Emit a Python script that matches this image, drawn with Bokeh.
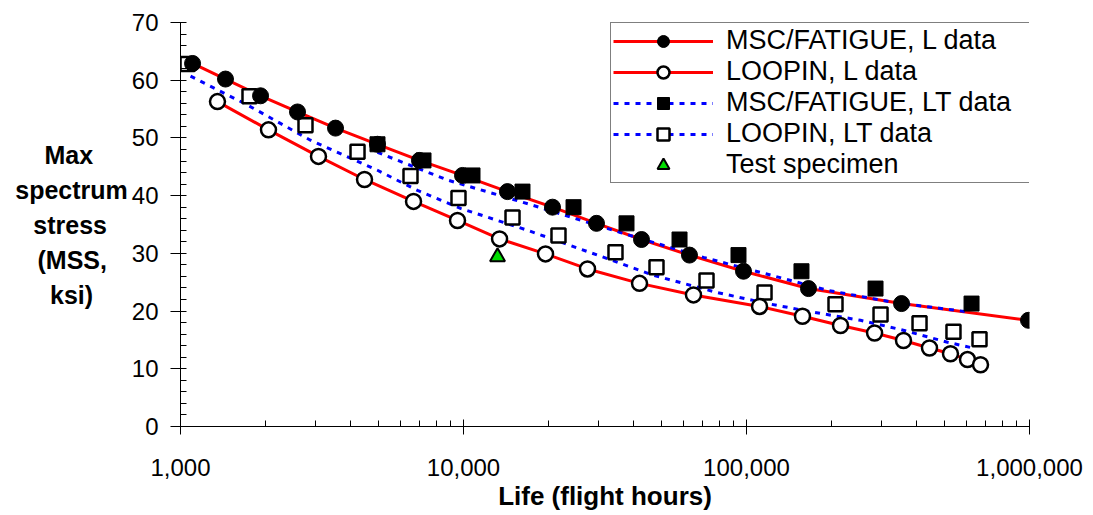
from bokeh.plotting import figure
from bokeh.models import FixedTicker, NumeralTickFormatter, Legend, LegendItem, Range1d
from bokeh.embed import file_html
from bokeh.resources import INLINE

FONT = "Liberation Sans"

# ---- data (life in flight hours, MSS in ksi) ----
msc_l_life = [1103, 1442, 1918, 2591, 3530, 4967, 6989, 9919, 14300, 20630, 29510,
              42560, 62880, 97590, 165600, 353000, 992000]
msc_l_mss = [62.9, 60.2, 57.3, 54.5, 51.7, 48.9, 46.1, 43.5, 40.7, 38.0, 35.2,
             32.4, 29.7, 26.9, 23.9, 21.3, 18.4]

loopin_l_life = [1351, 2046, 3073, 4469, 6659, 9524, 13410, 19490, 27430, 41880,
                 64960, 111200, 157700, 214900, 283500, 358700, 443200, 525800, 603800, 671300]
loopin_l_mss = [56.3, 51.4, 46.8, 42.8, 39.0, 35.7, 32.5, 29.9, 27.3, 24.8,
                22.8, 20.8, 19.1, 17.5, 16.2, 14.9, 13.6, 12.6, 11.6, 10.7]

msc_lt_life = [4967, 7222, 10760, 16160, 24480, 37670, 57990, 93690, 156400, 285700, 624000]
msc_lt_mss = [48.9, 46.1, 43.5, 40.7, 38.0, 35.2, 32.4, 29.7, 26.9, 23.9, 21.3]

loopin_lt_life = [1059, 1753, 2765, 4222, 6497, 9601, 14900, 21660, 34440, 48080,
                  72230, 115800, 206300, 297600, 408700, 538700, 665800]
loopin_lt_mss = [62.8, 57.2, 52.2, 47.6, 43.4, 39.6, 36.2, 33.1, 30.2, 27.6,
                 25.3, 23.2, 21.2, 19.4, 17.9, 16.4, 15.1]

# fitted (dotted) curves for the LT data
msc_lt_fit_life = [4967, 8780, 17670, 35870, 70490, 112100, 193300, 330700, 618700]
msc_lt_fit_mss = [47.5, 42.7, 38.3, 33.6, 29.3, 26.7, 23.6, 21.5, 19.8]
loopin_lt_fit_life = [1085, 1725, 2880, 4967, 6878, 9759, 16830, 29750, 46930, 78990,
                      118700, 168300, 252800, 350200, 513200, 644600]
loopin_lt_fit_mss = [60.7, 55.7, 49.6, 44.4, 40.9, 37.8, 34.0, 29.7, 26.2, 23.2,
                     21.3, 19.9, 18.4, 16.8, 14.6, 13.5]

test_life = [13190]
test_mss = [29.4]

x_major = [1000, 10000, 100000, 1000000]
x_minor = [m * d for d in (1000, 10000, 100000) for m in range(2, 10)]
y_major = list(range(0, 71, 10))
y_minor = [v for v in range(0, 71, 2) if v % 10 != 0]

# y-axis title lines; Bokeh right-aligns the lines of a horizontal left-axis
# label, so the shorter lines are padded with no-break spaces to centre them
NB = "\u00a0"
y_title_lines = ["Max" + NB * 5, "spectrum", "stress" + NB * 3, "(MSS," + NB * 3, "ksi)" + NB * 5]

# ---- figure ----
p = figure(width=1093, height=515, x_axis_type="log",
           x_range=Range1d(1000, 1000000), y_range=Range1d(0, 70),
           output_backend="svg", toolbar_location=None,
           min_border_left=180, min_border_right=64, min_border_top=22, min_border_bottom=89)
p.outline_line_color = None
p.grid.visible = False
p.background_fill_color = "white"
p.border_fill_color = "white"

# lines
r_line1 = p.line(msc_l_life, msc_l_mss, line_color="#ff0000", line_width=3)
r_line2 = p.line(loopin_l_life, loopin_l_mss, line_color="#ff0000", line_width=3)
r_line3 = p.line(msc_lt_fit_life, msc_lt_fit_mss, line_color="#0000ff", line_width=3, line_dash="5 6")
r_line4 = p.line(loopin_lt_fit_life, loopin_lt_fit_mss, line_color="#0000ff", line_width=3, line_dash="5 6")

# markers
r_m4 = p.scatter(loopin_lt_life, loopin_lt_mss, marker="square", size=14,
                 fill_color="white", line_color="black", line_width=2.5)
r_m2 = p.scatter(loopin_l_life, loopin_l_mss, marker="circle", size=15,
                 fill_color="white", line_color="black", line_width=2.5)
r_m3 = p.scatter(msc_lt_life, msc_lt_mss, marker="square", size=15,
                 fill_color="black", line_color="black", line_width=1)
r_m1 = p.scatter(msc_l_life, msc_l_mss, marker="circle", size=16,
                 fill_color="black", line_color="black", line_width=1)
r_m5 = p.scatter(test_life, test_mss, marker="triangle", size=15,
                 fill_color="#00dd00", line_color="black", line_width=2)

# axes
xa = p.xaxis[0]
xa.ticker = FixedTicker(ticks=x_major, minor_ticks=x_minor)
xa.formatter = NumeralTickFormatter(format="0,0")
xa.axis_label = "Life (flight hours)"
ya = p.yaxis[0]
ya.ticker = FixedTicker(ticks=y_major, minor_ticks=y_minor)
ya.axis_label = "\n".join(y_title_lines)
ya.axis_label_orientation = "horizontal"

for ax in (xa, ya):
    ax.axis_line_color = "black"
    ax.axis_line_width = 1
    ax.major_tick_line_color = "black"
    ax.minor_tick_line_color = "black"
    ax.major_label_text_font = FONT
    ax.major_label_text_font_size = "24px"
    ax.major_label_text_color = "black"
    ax.axis_label_text_font = FONT
    ax.axis_label_text_font_style = "bold"
    ax.axis_label_text_color = "black"
    ax.minor_tick_in = 6
    ax.minor_tick_out = 0

xa.major_tick_in = 7
xa.major_tick_out = 8
xa.major_label_standoff = 24
xa.axis_label_standoff = 2
xa.axis_label_text_font_size = "26px"

ya.major_tick_in = 6
ya.major_tick_out = 10
ya.major_label_standoff = 12
ya.axis_label_standoff = 1
ya.axis_label_text_font_size = "25px"
ya.axis_label_text_line_height = 1.25

legend = Legend(items=[
    LegendItem(label="MSC/FATIGUE, L data", renderers=[r_line1, r_m1]),
    LegendItem(label="LOOPIN, L data", renderers=[r_line2, r_m2]),
    LegendItem(label="MSC/FATIGUE, LT data", renderers=[r_line3, r_m3]),
    LegendItem(label="LOOPIN, LT data", renderers=[r_line4, r_m4]),
    LegendItem(label="Test specimen", renderers=[r_m5]),
], location=(430, 243), border_line_color="black", border_line_width=1,
    background_fill_color="white", background_fill_alpha=1.0,
    label_text_font=FONT, label_text_font_size="27px", label_text_color="black",
    glyph_width=100, glyph_height=30, label_height=30, spacing=0, padding=2,
    label_standoff=13, label_width=301, margin=0)
p.add_layout(legend)

open("out.html", "w").write(file_html(p, INLINE))
